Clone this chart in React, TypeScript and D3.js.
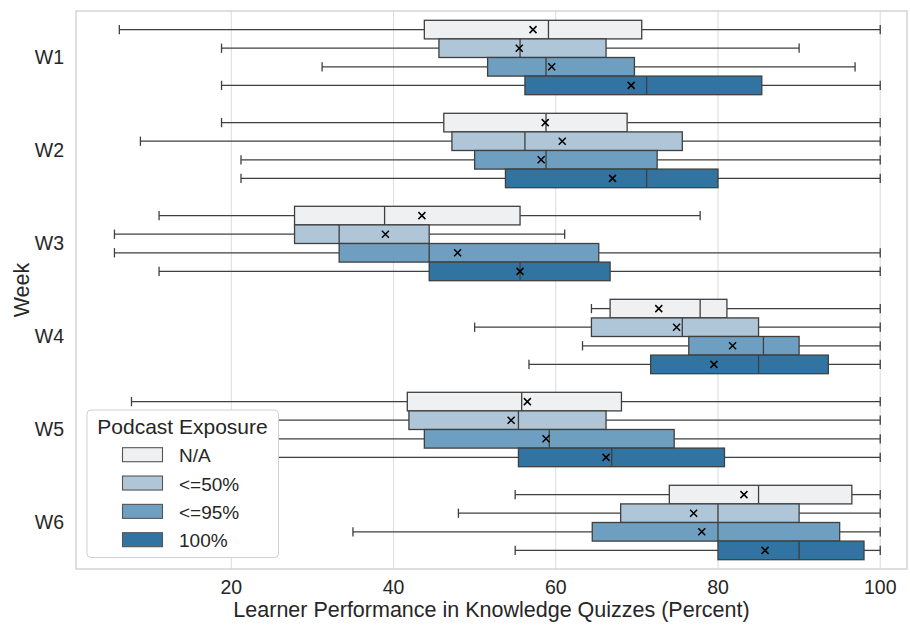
import React, { useEffect, useRef } from 'react';
import * as d3 from 'd3';

const weeks = ['W1', 'W2', 'W3', 'W4', 'W5', 'W6'];
const exposures = ['N/A', '<=50%', '<=95%', '100%'];
const colors = ['#eff0f1', '#afc6d8', '#6f9fc0', '#3274a1'];
const xTicks = [20, 40, 60, 80, 100];

// one row per week, one column per exposure group
const whiskerLow = [
    [6.2, 18.8, 31.2, 18.8],
    [18.8, 8.8, 21.2, 21.2],
    [11.1, 5.6, 5.6, 11.1],
    [64.4, 50.0, 63.3, 56.7],
    [7.7, 10.0, 12.0, 15.0],
    [55.0, 48.0, 35.0, 55.0],
];
const q1 = [
    [43.8, 45.6, 51.6, 56.2],
    [46.2, 47.2, 50.0, 53.8],
    [27.8, 27.8, 33.3, 44.4],
    [66.7, 64.4, 76.4, 71.7],
    [41.7, 41.9, 43.8, 55.4],
    [74.0, 68.0, 64.5, 80.0],
];
const median = [
    [59.1, 55.6, 58.8, 71.2],
    [58.8, 56.2, 58.8, 71.2],
    [38.9, 33.3, 44.4, 55.6],
    [77.8, 75.6, 85.6, 85.0],
    [55.8, 55.4, 59.2, 66.9],
    [85.0, 80.0, 80.0, 90.0],
];
const q3 = [
    [70.6, 66.2, 69.7, 85.4],
    [68.8, 75.6, 72.5, 80.0],
    [55.6, 44.4, 65.3, 66.7],
    [81.1, 85.0, 90.0, 93.6],
    [68.1, 66.2, 74.6, 80.8],
    [96.5, 90.0, 95.0, 98.0],
];
const whiskerHigh = [
    [100, 90.0, 96.9, 100],
    [100, 100, 100, 100],
    [77.8, 61.1, 100, 100],
    [100, 100, 100, 100],
    [100, 100, 100, 100],
    [100, 100, 100, 100],
];
const means = [
    [57.2, 55.5, 59.5, 69.3],
    [58.7, 60.8, 58.2, 67.0],
    [43.5, 39.0, 47.9, 55.6],
    [72.7, 74.9, 81.8, 79.5],
    [56.5, 54.5, 58.8, 66.2],
    [83.2, 77.0, 78.0, 85.8],
];

const width = 910;
const height = 626;
const margin = { top: 11, right: 3, bottom: 57, left: 76 };
const font = '"Liberation Sans", Arial, sans-serif';
const ink = '#262626';
const edge = '#3f3f3f';

const BoxChart = () => {
    const ref = useRef<SVGSVGElement>(null);

    useEffect(() => {
        const svg = d3.select(ref.current);
        svg.selectAll('*').remove();

        const x = d3
            .scaleLinear()
            .domain([0.86, 103.3])
            .range([margin.left, width - margin.right]);

        const y = d3
            .scaleBand()
            .domain(weeks)
            .range([margin.top, height - margin.bottom])
            .padding(0);

        const inner = d3
            .scaleBand()
            .domain(exposures)
            .range([y.bandwidth() * 0.1, y.bandwidth() * 0.9])
            .padding(0);

        const boxH = inner.bandwidth();
        const plotBottom = height - margin.bottom;

        // grid
        svg.append('g')
            .selectAll('line')
            .data(xTicks)
            .join('line')
            .attr('x1', (d) => x(d))
            .attr('x2', (d) => x(d))
            .attr('y1', margin.top)
            .attr('y2', plotBottom)
            .attr('stroke', '#dedede')
            .attr('stroke-width', 1.1);

        // frame
        svg.append('rect')
            .attr('x', margin.left)
            .attr('y', margin.top)
            .attr('width', width - margin.right - margin.left)
            .attr('height', plotBottom - margin.top)
            .attr('fill', 'none')
            .attr('stroke', '#cccccc')
            .attr('stroke-width', 1.25);

        const rows = [];
        weeks.forEach((w, i) => {
            exposures.forEach((e, j) => {
                rows.push({
                    top: y(w) + inner(e),
                    lo: whiskerLow[i][j],
                    q1: q1[i][j],
                    med: median[i][j],
                    q3: q3[i][j],
                    hi: whiskerHigh[i][j],
                    mean: means[i][j],
                    color: colors[j],
                });
            });
        });

        const box = svg.append('g')
            .selectAll('g')
            .data(rows)
            .join('g')
            .attr('transform', (d) => `translate(0,${d.top})`);

        box.append('line')
            .attr('x1', (d) => x(d.lo))
            .attr('x2', (d) => x(d.q1))
            .attr('y1', boxH / 2)
            .attr('y2', boxH / 2)
            .attr('stroke', edge)
            .attr('stroke-width', 1.3);
        box.append('line')
            .attr('x1', (d) => x(d.q3))
            .attr('x2', (d) => x(d.hi))
            .attr('y1', boxH / 2)
            .attr('y2', boxH / 2)
            .attr('stroke', edge)
            .attr('stroke-width', 1.3);
        box.append('line')
            .attr('x1', (d) => x(d.lo))
            .attr('x2', (d) => x(d.lo))
            .attr('y1', boxH / 4)
            .attr('y2', (boxH * 3) / 4)
            .attr('stroke', edge)
            .attr('stroke-width', 1.3);
        box.append('line')
            .attr('x1', (d) => x(d.hi))
            .attr('x2', (d) => x(d.hi))
            .attr('y1', boxH / 4)
            .attr('y2', (boxH * 3) / 4)
            .attr('stroke', edge)
            .attr('stroke-width', 1.3);

        box.append('rect')
            .attr('x', (d) => x(d.q1))
            .attr('width', (d) => x(d.q3) - x(d.q1))
            .attr('y', 0)
            .attr('height', boxH)
            .attr('fill', (d) => d.color)
            .attr('stroke', edge)
            .attr('stroke-width', 1.3);

        box.append('line')
            .attr('x1', (d) => x(d.med))
            .attr('x2', (d) => x(d.med))
            .attr('y1', 0)
            .attr('y2', boxH)
            .attr('stroke', edge)
            .attr('stroke-width', 1.3);

        // mean marker
        const m = 3.5;
        box.append('path')
            .attr('d', (d) => {
                const cx = x(d.mean);
                const cy = boxH / 2;
                return `M${cx - m},${cy - m}L${cx + m},${cy + m}M${cx - m},${cy + m}L${cx + m},${cy - m}`;
            })
            .attr('stroke', '#000')
            .attr('stroke-width', 1.5)
            .attr('fill', 'none');

        // x ticks
        svg.append('g')
            .selectAll('text')
            .data(xTicks)
            .join('text')
            .attr('x', (d) => x(d))
            .attr('y', 594)
            .attr('text-anchor', 'middle')
            .attr('font-size', 19.5)
            .attr('font-family', font)
            .attr('fill', ink)
            .text((d) => d);

        // y ticks
        svg.append('g')
            .selectAll('text')
            .data(weeks)
            .join('text')
            .attr('x', 64)
            .attr('y', (d) => y(d) + y.bandwidth() / 2)
            .attr('dy', '0.35em')
            .attr('text-anchor', 'end')
            .attr('font-size', 19.5)
            .attr('font-family', font)
            .attr('fill', ink)
            .text((d) => d);

        svg.append('text')
            .attr('x', (margin.left + width - margin.right) / 2)
            .attr('y', 617)
            .attr('text-anchor', 'middle')
            .attr('font-size', 21.5)
            .attr('font-family', font)
            .attr('fill', ink)
            .text('Learner Performance in Knowledge Quizzes (Percent)');

        svg.append('text')
            .attr('transform', `translate(29,${(margin.top + plotBottom) / 2}) rotate(-90)`)
            .attr('text-anchor', 'middle')
            .attr('font-size', 21.5)
            .attr('font-family', font)
            .attr('fill', ink)
            .text('Week');

        // legend
        const lg = svg.append('g').attr('transform', 'translate(87,410)');
        lg.append('rect')
            .attr('width', 191.5)
            .attr('height', 147.5)
            .attr('rx', 4)
            .attr('fill', '#ffffff')
            .attr('stroke', '#d0d0d0')
            .attr('stroke-width', 1);
        lg.append('text')
            .attr('x', 95.5)
            .attr('y', 23.5)
            .attr('text-anchor', 'middle')
            .attr('font-size', 21)
            .attr('font-family', font)
            .attr('fill', ink)
            .text('Podcast Exposure');
        const item = lg.selectAll('g.item')
            .data(exposures)
            .join('g')
            .attr('class', 'item')
            .attr('transform', (d, i) => `translate(0,${44.7 + i * 28.33})`);
        item.append('rect')
            .attr('x', 35.5)
            .attr('y', -7)
            .attr('width', 40)
            .attr('height', 14)
            .attr('fill', (d, i) => colors[i])
            .attr('stroke', '#555555')
            .attr('stroke-width', 1.1);
        item.append('text')
            .attr('x', 92)
            .attr('y', 7.5)
            .attr('font-size', 19)
            .attr('font-family', font)
            .attr('fill', ink)
            .text((d) => d);
    }, []);

    return (
        <svg
            ref={ref}
            width={width}
            height={height}
            style={{ position: 'absolute', left: 0, top: 0, background: '#fff' }}
        />
    );
};

export default function App() {
    return <BoxChart />;
}
